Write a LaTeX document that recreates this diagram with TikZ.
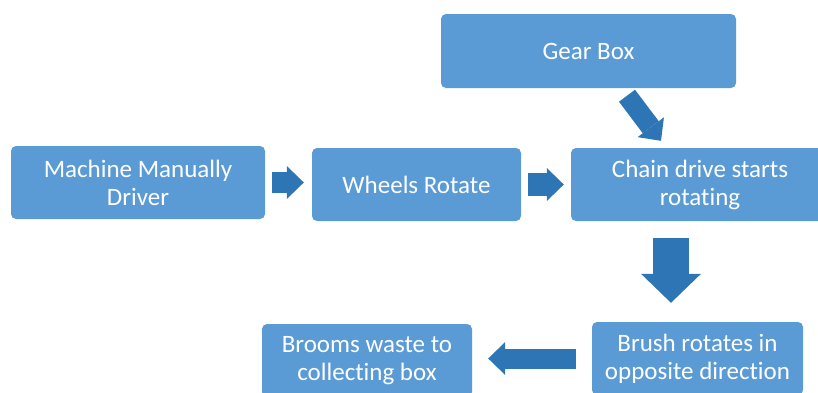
\documentclass[tikz,border=0pt]{standalone}
\usepackage{fontspec}
\setmainfont{Carlito}[Ligatures=NoCommon]
\usetikzlibrary{arrows.meta,calc}
\definecolor{boxblue}{HTML}{5B9BD5}
\definecolor{arrowblue}{HTML}{2E75B6}

\begin{document}
\begin{tikzpicture}[x=1pt, y=-1pt,
  box/.style={fill=boxblue, rounded corners=5pt, align=center, text=white, font=\fontsize{25}{28}\selectfont, minimum height=73pt, inner sep=0pt},
  blk/.style={draw=arrowblue, line width=21pt, -{Triangle[width=33pt, length=17pt, line width=0pt]}},
  bigblk/.style={draw=arrowblue, line width=36pt, -{Triangle[width=60pt, length=29pt, line width=0pt]}}]
\useasboundingbox (0,0) rectangle (818,392);
\clip (0,0) rectangle (818,392);
\node[box, minimum width=254pt] (machine) at (138,182.5) {Machine Manually\\Driver};
\node[box, minimum width=209pt] (wheels) at (416.5,184.5) {Wheels Rotate};
\node[box, minimum width=258pt] (chain) at (700,184.5) {Chain drive starts\\rotating};
\node[box, minimum width=295pt, minimum height=74pt] (gear) at (588.5,51) {Gear Box};
\node[box, minimum width=211pt] (brush) at (697.5,358.5) {Brush rotates in\\opposite direction};
\node[box, minimum width=210pt] (brooms) at (367,360.5) {Brooms waste to\\collecting box};
\draw[blk, shorten <=7pt, shorten >=8pt] (machine.east) -- (machine.east -| wheels.west);
\draw[blk, line width=23pt, shorten <=7pt, shorten >=7pt] (wheels.east) -- (wheels.east -| chain.west);
\draw[blk, line width=20pt] ([shift={(38.5,7.5)}]gear.south) -- ([shift={(-39,-7)}]chain.north);
\draw[bigblk, shorten <=17pt, shorten >=19pt] ([xshift=-29pt]chain.south) -- ([xshift=-29pt]chain.south |- brush.north);
\draw[blk, line width=20pt, shorten <=16pt, shorten >=16pt] (brush.west) -- (brush.west -| brooms.east);
\end{tikzpicture}
\end{document}
